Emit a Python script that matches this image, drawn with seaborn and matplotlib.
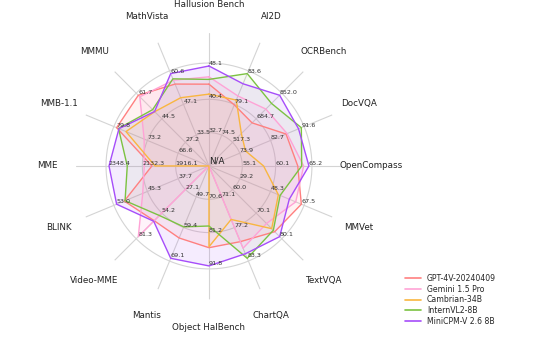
import numpy as np
import pandas as pd
import matplotlib
matplotlib.use("Agg")
import matplotlib.pyplot as plt
from matplotlib.lines import Line2D
import seaborn as sns

# ---------------- data ----------------
categories = ["Hallusion Bench", "AI2D", "OCRBench", "DocVQA", "OpenCompass",
              "MMVet", "TextVQA", "ChartQA", "Object HalBench", "Mantis",
              "Video-MME", "BLINK", "MME", "MMB-1.1", "MMMU", "MathVista"]
axis_floor = [25, 70, 350, 65, 50, 10, 50, 65, 60, 40, 0, 30, 1700, 60, 10, 20]

models = ["GPT-4V-20240409", "Gemini 1.5 Pro", "Cambrian-34B",
          "InternVL2-8B", "MiniCPM-V 2.6 8B"]
gpt4v = [43.9, 79.0, 656, 87.2, 63.5, 67.5, 78.0, 80.0, 86.0, 62.7, 63.0, 51.1, 2070.2, 79.8, 61.7, 56.0]
gemini = [45.6, 80.3, 754, 87.5, 64.4, 64.0, 74.5, 81.3, None, None, 81.3, 46.5, 2120.0, 73.9, 60.6, 57.7]
cambrian = [41.6, 79.7, 580, 75.5, 58.3, 53.2, 76.7, 75.6, 85.7, None, None, None, 2049.9, 77.8, 49.7, 50.0]
internvl2 = [45.0, 83.6, 794, 91.6, 64.1, 54.3, 77.4, 83.3, 79.1, 59.2, 57.0, 50.9, 2230.0, 79.4, 51.2, 58.3]
minicpm = [48.1, 82.1, 852, 90.8, 65.2, 60.0, 80.1, 82.4, 91.8, 69.1, 63.6, 53.0, 2348.4, 79.3, 49.8, 60.6]
series = [gpt4v, gemini, cambrian, internvl2, minicpm]

colors = ["#ff8080", "#ffa3d6", "#f9b640", "#7cc242", "#a64dfa"]

# ---------------- style ----------------
sns.set_theme(style="white")
plt.rcParams["font.family"] = ["DejaVu Sans"]

fig = plt.figure(figsize=(5.4, 3.4), dpi=100)
R_LIM = 1.335
ax = fig.add_axes([0.1398, 0.1194, 0.4944, 0.785], projection="polar")
ax.set_theta_offset(np.pi / 2)
ax.set_theta_direction(-1)
ax.grid(False)
ax.spines["polar"].set_visible(False)
ax.patch.set_alpha(0)

n = len(categories)
angles = np.arange(n) * 2 * np.pi / n
vals = np.array([[np.nan if v is None else v for v in s] for s in series], dtype=float)
floor = np.array(axis_floor, dtype=float)
top = np.nanmax(vals, axis=0)
norm = np.nan_to_num((vals - floor) / (top - floor), nan=0.0)

# spokes and rings
for a in angles:
    ax.plot([a, a], [0, R_LIM], color="#d4d4d4", lw=0.8, zorder=0)
tt = np.linspace(0, 2 * np.pi, 400)
for rr in [1 / 3, 2 / 3, 1.03]:
    ax.plot(tt, np.full_like(tt, rr), color="#d4d4d4", lw=0.8, zorder=0)

# series
rows = []
for m, r in zip(models, norm):
    for k in range(n + 1):
        rows.append({"model": m, "theta": angles[k % n] if k < n else 2 * np.pi, "r": r[k % n]})
df = pd.DataFrame(rows)
sns.lineplot(data=df, x="theta", y="r", hue="model", hue_order=models,
             palette=colors, sort=False, estimator=None, linewidth=1.0,
             legend=False, ax=ax, zorder=3)
fill_alpha = [0.1, 0.12, 0.07, 0.07, 0.1]
for m, c, fa in zip(models, colors, fill_alpha):
    d = df[df["model"] == m]
    ax.fill(d["theta"], d["r"], color=c, alpha=fa, zorder=2, lw=0)

ax.set_xlabel("")
ax.set_ylabel("")
ax.set_xticks([])
ax.set_yticks([])
ax.set_ylim(0, R_LIM)

# value labels
for i, a in enumerate(angles):
    for frac in (1 / 3, 2 / 3, 1.0):
        v = floor[i] + frac * (top[i] - floor[i])
        ax.text(a, frac, f"{v:.1f}", ha="left", va="bottom", fontsize=4.6,
                color="#333333", zorder=5)
    ax.text(a, 1.62, categories[i], ha="center", va="center", fontsize=6.3,
            color="#222222", clip_on=False)
ax.text(0, 0, "N/A", ha="left", va="bottom", fontsize=6.3, color="#222222", zorder=6)

handles = [Line2D([0], [0], color=c, lw=1.2) for c in colors]
fig.legend(handles, models, loc="upper left",
           bbox_to_anchor=(398 / 540, 1 - 267 / 340), frameon=False,
           fontsize=5.6, handlelength=2.0, labelspacing=0.22, handletextpad=0.8)

fig.savefig("out.png", dpi=100)
